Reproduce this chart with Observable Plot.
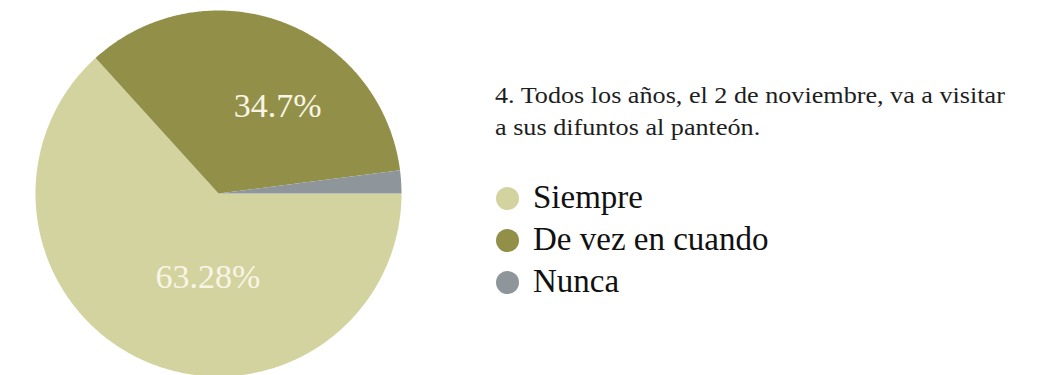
<!DOCTYPE html>
<html>
<head>
<meta charset="utf-8">
<script src="https://cdn.jsdelivr.net/npm/d3@7"></script>
<script src="https://cdn.jsdelivr.net/npm/@observablehq/plot@0.6"></script>
<style>
  html, body { margin: 0; padding: 0; background: #fff; overflow: hidden; }
  #wrap { position: relative; width: 1038px; height: 375px; font-family: "Liberation Serif", "Times New Roman", serif; }
  #chart { position: absolute; left: 0; top: 0; }
  #title { position: absolute; left: 495px; top: 79px; font-size: 24px; line-height: 32px; color: #1e1e1e; white-space: nowrap; transform: scaleX(1.09); transform-origin: left top; }
  #legend { position: absolute; left: 533px; top: 176px; font-size: 33px; line-height: 42px; color: #111; white-space: nowrap; }
  .row { position: relative; height: 42px; }
  .sw { position: absolute; left: -37.5px; top: 10.5px; width: 23px; height: 23px; border-radius: 50%; }
</style>
</head>
<body>
<div id="wrap">
  <div id="chart"></div>
  <div id="title"></div>
  <div id="legend"></div>
</div>
<script>
// ---- Data ----
const categories = ["Siempre", "De vez en cuando", "Nunca"];
const values = [63.28, 34.7, 2.02];
const colors = ["#d3d39f", "#929048", "#8e969b"];
const titleLines = [
  "4. Todos los años, el 2 de noviembre, va a visitar",
  "a sus difuntos al panteón."
];

// ---- Layout constants (pixels) ----
const W = 440, H = 375, R = 183, CX = 218, CY = 193;
const labelRadius = 0.506;

// ---- Pie geometry derived from values ----
const arcs = d3.pie().sort(null)
  .startAngle(Math.PI / 2)
  .endAngle(Math.PI / 2 + 2 * Math.PI)(values);

const slicePts = [];
arcs.forEach((a, i) => {
  const cat = categories[i];
  slicePts.push({cat, x: 0, y: 0});
  const n = Math.max(2, Math.ceil((a.endAngle - a.startAngle) / (Math.PI / 360)));
  for (let k = 0; k <= n; k++) {
    const t = a.startAngle + (a.endAngle - a.startAngle) * k / n;
    slicePts.push({cat, x: Math.sin(t), y: Math.cos(t)});
  }
});

const labelData = arcs
  .map((a, i) => ({a, v: values[i], cat: categories[i]}))
  .filter(d => d.v > 5)
  .map(d => {
    const m = (d.a.startAngle + d.a.endAngle) / 2;
    return {x: labelRadius * Math.sin(m), y: labelRadius * Math.cos(m), text: `${d.v}%`};
  });

const chart = Plot.plot({
  width: W,
  height: H,
  margin: 0,
  style: {background: "transparent", fontFamily: "Liberation Serif"},
  x: {domain: [-CX / R, (W - CX) / R], axis: null},
  y: {domain: [-(H - CY) / R, CY / R], axis: null},
  color: {domain: categories, range: colors},
  marks: [
    Plot.line(slicePts, {x: "x", y: "y", z: "cat", fill: "cat", stroke: "none", curve: "linear-closed"}),
    Plot.text(labelData, {x: "x", y: "y", text: "text", fill: "#f8f5e6", fontSize: 34, fontFamily: "Liberation Serif", dx: 27, dy: -1})
  ]
});
document.getElementById("chart").appendChild(chart);

// ---- Title and legend ----
const title = document.getElementById("title");
titleLines.forEach(t => { const d = document.createElement("div"); d.textContent = t; title.appendChild(d); });

const legend = document.getElementById("legend");
categories.forEach((c, i) => {
  const row = document.createElement("div");
  row.className = "row";
  const sw = document.createElement("span");
  sw.className = "sw";
  sw.style.background = colors[i];
  row.appendChild(sw);
  row.appendChild(document.createTextNode(c));
  legend.appendChild(row);
});
</script>
</body>
</html>
